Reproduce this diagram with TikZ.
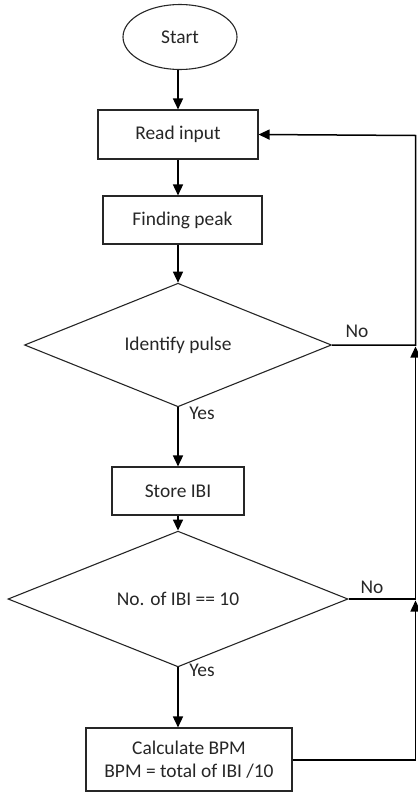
\documentclass[tikz,border=0pt]{standalone}
\usepackage{fontspec}
\setmainfont{Carlito}
\usetikzlibrary{shapes.geometric,arrows.meta,calc}
\begin{document}
\begin{tikzpicture}[x=1bp,y=-1bp,
  every node/.style={font=\fontsize{19.5}{23}\selectfont, text=black!85},
  box/.style={draw=black!85, line width=1.1bp, rectangle, inner sep=0pt},
  dec/.style={draw=black!85, line width=1.1bp, diamond, inner sep=0pt},
  lbl/.style={inner sep=0pt},
  conn/.style={draw=black, line width=1.5bp},
  arr/.style={conn, -{Triangle[length=11bp,width=10bp]}}
]
\useasboundingbox (0,0) rectangle (417,794);
\node[draw=black!85, line width=1.1bp, ellipse, minimum width=114bp, minimum height=65bp, inner sep=0pt] (start) at (180,37) {Start};
\node[box, minimum width=160bp, minimum height=49bp] (read) at (178,134.5) {Read input};
\node[box, minimum width=159bp, minimum height=48bp] (find) at (182.5,220) {Finding peak};
\node[dec, minimum width=307bp, minimum height=86bp] (pulse) at (178,345) {Identify pulse};
\node[box, minimum width=132bp, minimum height=48bp] (store) at (178,491) {Store IBI};
\node[dec, minimum width=340bp, minimum height=83bp] (ibi) at (178,599) {No. of IBI == 10};
\node[box, minimum width=206bp, minimum height=63bp, align=center] (calc) at (189,759.5) {Calculate BPM\\BPM = total of IBI /10};

\node[lbl] (yes1) at (202,413) {Yes};
\node[lbl] (yes2) at (202,670) {Yes};
\node[lbl] (no1) at (357,331) {No};
\node[lbl] (no2) at (372,587) {No};

\coordinate (r1) at (415.5,345);
\coordinate (r2) at (415.5,599);
\coordinate (r3) at (415.5,760);
\coordinate (rtop) at (415.5,135.5);

\draw[arr] (start.south -| read.north) -- (read.north);
\draw[arr] (read.south) -- (read.south |- find.north);
\draw[arr] (read.south |- find.south) -- (pulse.north);
\draw[arr] (pulse.south) -- (store.north);
\draw[arr] (store.south) -- (ibi.north);
\draw[arr] (ibi.south) -- (ibi.south |- calc.north);

\draw[arr] (pulse.east) -- (r1) -- (rtop) -- (read.east);
\draw[arr] (ibi.east) -- (r2) -- ($(r1)+(0,1.5)$);
\draw[arr] (calc.east |- r3) -- (r3) -- ($(r2)+(0,1.5)$);
\end{tikzpicture}
\end{document}
